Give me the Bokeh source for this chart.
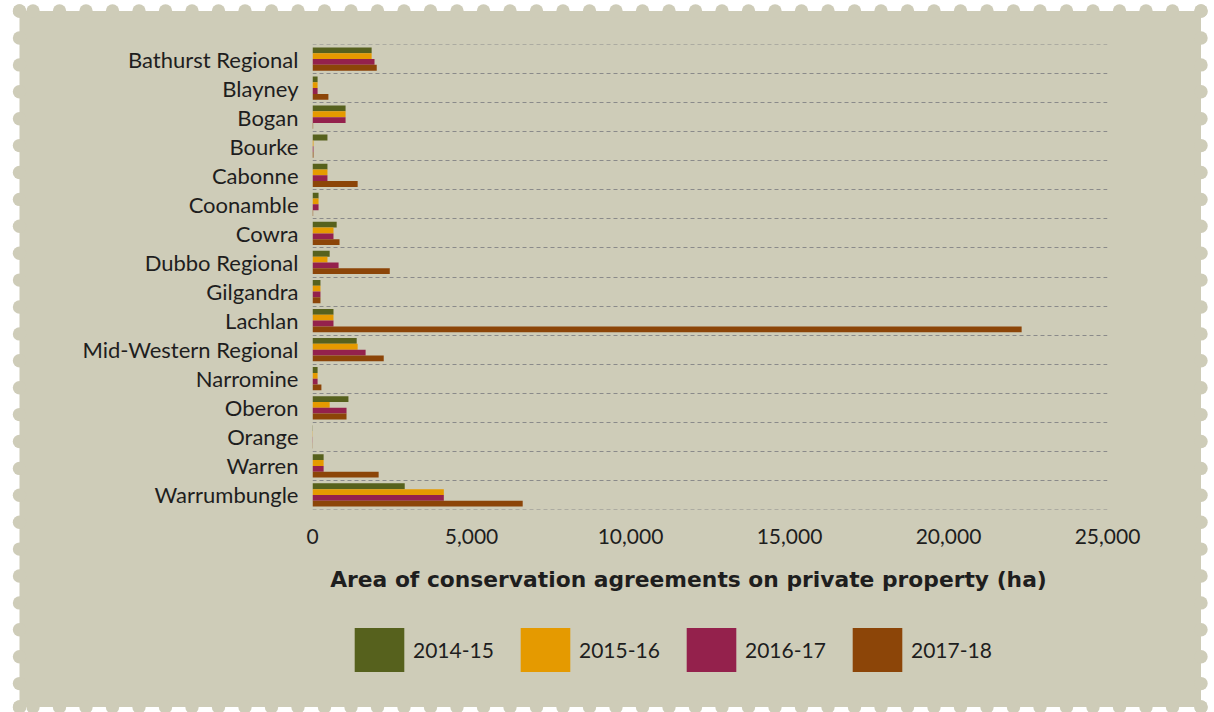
import urllib.parse
from bokeh.plotting import figure
from bokeh.layouts import column
from bokeh.models import (FactorRange, Range1d, ColumnDataSource, Legend, LegendItem,
                          FixedTicker, NumeralTickFormatter, Label)
from bokeh.transform import dodge
from bokeh.embed import file_html
from bokeh.resources import INLINE

# ---------------- data ----------------
categories = ["Bathurst Regional", "Blayney", "Bogan", "Bourke", "Cabonne", "Coonamble",
              "Cowra", "Dubbo Regional", "Gilgandra", "Lachlan", "Mid-Western Regional",
              "Narromine", "Oberon", "Orange", "Warren", "Warrumbungle"]
years = ["2014-15", "2015-16", "2016-17", "2017-18"]
v_2014_15 = [1860, 160, 1040, 470, 470, 190, 760, 540, 250, 660, 1390, 160, 1130, 12, 350, 2900]
v_2015_16 = [1860, 160, 1040, 30, 470, 190, 660, 470, 250, 660, 1420, 160, 540, 12, 350, 4130]
v_2016_17 = [1950, 160, 1040, 30, 470, 190, 660, 820, 250, 660, 1670, 160, 1070, 12, 350, 4130]
v_2017_18 = [2020, 500, 20, 30, 1420, 20, 850, 2430, 250, 22300, 2240, 280, 1070, 10, 2080, 6610]
x_ticks = [0, 5000, 10000, 15000, 20000, 25000]
x_title = "Area of conservation agreements on private property (ha)"

colors = ["#56611D", "#E59A00", "#94214C", "#8C4508"]
BG = "#CECCB8"
TXT = "#1e1e1e"

# ---------------- page / stamp background (decoration) ----------------
W, H = 1214, 712
H1 = 565                     # main chart height; title + legend strip below
FL, FR = 312, 1107           # frame left / right (page px)
L, T, Rr, B = 19.5, 11.0, 1201.0, 707.0
rad = 6.7
circ = []
xs_edge = [L] + [33 + k * 26.5 for k in range(44)] + [Rr]
ys_edge = [T] + [38 + k * 26.9 for k in range(25)] + [B]
for x in xs_edge:
    circ.append((x, T)); circ.append((x, B))
for y in ys_edge:
    circ.append((L, y)); circ.append((Rr, y))
svg = (f"<svg xmlns='http://www.w3.org/2000/svg' width='{W}' height='{H}' viewBox='0 0 {W} {H}'>"
       f"<g fill='{BG}'><rect x='{L}' y='{T}' width='{Rr - L}' height='{B - T}'/>"
       + "".join(f"<circle cx='{cx:.2f}' cy='{cy:.2f}' r='{rad}'/>" for cx, cy in circ)
       + "</g></svg>")
bg_url = "url(\"data:image/svg+xml;charset=utf-8," + urllib.parse.quote(svg, safe="") + "\")"

# ---------------- main chart ----------------
source = ColumnDataSource(data=dict(cat=categories, y0=v_2014_15, y1=v_2015_16,
                                    y2=v_2016_17, y3=v_2017_18))

p = figure(width=W, height=H1, output_backend="svg", toolbar_location=None,
           y_range=FactorRange(factors=categories[::-1]), x_range=Range1d(0, 25000),
           min_border_left=FL, min_border_right=W - FR, min_border_top=44,
           min_border_bottom=H1 - 509,
           border_fill_color=None, background_fill_color=None, outline_line_color=None)

# dashed separators between categories
p.hspan(y=list(range(len(categories) + 1)), line_color="#8a8a8a", line_width=1, line_dash="4 3")

offsets = [0.3, 0.1, -0.1, -0.3]
for i, col in enumerate(colors):
    p.hbar(y=dodge("cat", offsets[i], range=p.y_range), right=f"y{i}", left=0, height=0.2,
           source=source, fill_color=col, line_color=None)

p.xgrid.visible = False
p.ygrid.visible = False

for ax in (p.xaxis[0], p.yaxis[0]):
    ax.axis_line_color = None
    ax.major_tick_line_color = None
    ax.minor_tick_line_color = None
    ax.major_label_text_font = "Lato"
    ax.major_label_text_color = TXT

p.xaxis.ticker = FixedTicker(ticks=x_ticks)
p.xaxis.formatter = NumeralTickFormatter(format="0,0")
p.xaxis.major_label_text_font_size = "21px"
p.xaxis.major_label_standoff = 13
p.yaxis.major_label_text_font_size = "22px"
p.yaxis.major_label_standoff = 8

# ---------------- axis title + legend strip (page-pixel coordinates) ----------------
H2 = H - H1
q = figure(width=W, height=H2, output_backend="svg", toolbar_location=None,
           x_range=Range1d(FL, FR), y_range=Range1d(H, H1),
           x_axis_location=None, y_axis_location=None,
           min_border_left=FL, min_border_right=W - FR, min_border_top=0, min_border_bottom=0,
           border_fill_color=None, background_fill_color=None, outline_line_color=None)
q.grid.visible = False

q.add_layout(Label(x=688, y=579, text=x_title, text_align="center", text_baseline="middle",
                   text_font="DejaVu Sans", text_font_style="bold", text_font_size="21.8px",
                   text_color=TXT))

# legend glyph carriers: one bar each, placed outside the visible range
legend_renderers = []
for col in colors:
    legend_renderers.append(q.hbar(y=[H + 100], left=[FL], right=[FL], height=1,
                                   fill_color=col, line_color=None))

legend = Legend(items=[LegendItem(label=yr, renderers=[r]) for yr, r in zip(years, legend_renderers)],
                orientation="horizontal", glyph_width=62, glyph_height=55, label_standoff=3,
                label_width=81, spacing=20, padding=0, margin=0, border_line_color=None,
                background_fill_alpha=0, label_text_font="Lato", label_text_font_size="21px",
                label_text_color=TXT, location=(348 - FL, 35))
q.add_layout(legend)

layout = column(p, q, spacing=0,
                styles={"background-image": bg_url, "background-repeat": "no-repeat",
                        "background-size": f"{W}px {H}px"})

open("out.html", "w").write(file_html(layout, INLINE))
